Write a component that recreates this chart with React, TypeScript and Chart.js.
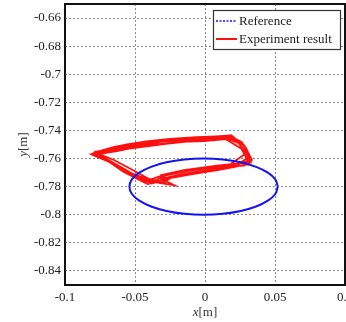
import React, { useEffect, useRef } from "react";
import { Chart, registerables } from "chart.js";

Chart.register(...registerables);

const refLabel = "Reference";
const expLabel = "Experiment result";

const xTicks = [-0.1, -0.05, 0, 0.05, 0.1];
const xTickLabels = ["-0.1", "-0.05", "0", "0.05", "0.1"];
const yTicks = [-0.84, -0.82, -0.8, -0.78, -0.76, -0.74, -0.72, -0.7, -0.68, -0.66];
const yTickLabels = ["-0.84", "-0.82", "-0.8", "-0.78", "-0.76", "-0.74", "-0.72", "-0.7", "-0.68", "-0.66"];

const refX = [0.052, 0.0502, 0.0449, 0.0365, 0.0255, 0.0127, -0.001, -0.0147, -0.0275, -0.0385, -0.0469, -0.0522, -0.054,
  -0.0522, -0.0469, -0.0385, -0.0275, -0.0147, -0.001, 0.0127, 0.0255, 0.0365, 0.0449, 0.0502, 0.052];
const refY = [-0.78, -0.7748, -0.77, -0.7659, -0.7627, -0.7607, -0.76, -0.7607, -0.7627, -0.7659, -0.77, -0.7748, -0.78,
  -0.7852, -0.79, -0.7941, -0.7973, -0.7993, -0.8, -0.7993, -0.7973, -0.7941, -0.79, -0.7852, -0.78];

const expX = [
  -0.0793, -0.068, -0.0557, -0.042, -0.0271, -0.012, -0.0007, 0.0157, 0.0279, 0.0329, 0.0086, -0.015, -0.0314, -0.029, -0.044, -0.06,
  -0.08, -0.068, -0.0557, -0.042, -0.0271, -0.012, -0.0007, 0.015, 0.026, 0.032, 0.0086, -0.015, -0.0314, -0.0221, -0.035, -0.0529, -0.068,
  -0.078, -0.066, -0.054, -0.04, -0.025, -0.01, 0.002, 0.0186, 0.02, 0.029, 0.0335, 0.02, 0, -0.018, -0.033, -0.0436, -0.056, -0.072,
  -0.0795, -0.07, -0.058, -0.045, -0.03, -0.015, 0, 0.014, 0.024, 0.03, 0.031, 0.01, -0.01, -0.025, -0.0293, -0.04, -0.05, -0.065,
  -0.0785, -0.066, -0.052, -0.038, -0.022, -0.008, 0.008, 0.017, 0.027, 0.0325, 0.028, 0.005, -0.013, -0.028, -0.035, -0.048, -0.062, -0.0785,
  -0.076, -0.064, -0.051, -0.037, -0.021, -0.006, 0.009, 0.018, 0.0265, 0.0315, 0.022, 0.004, -0.016, -0.03, -0.038, -0.05, -0.072, -0.081,
  -0.07, -0.057, -0.043, -0.028, -0.013, 0.003, 0.0165, 0.025, 0.0305, 0.015, -0.005, -0.022, -0.033, -0.041, -0.058, -0.074,
  -0.077, -0.062, -0.05, -0.035, -0.02, -0.005, 0.01,
];
const expY = [
  -0.7561, -0.7525, -0.75, -0.7478, -0.7462, -0.7452, -0.7448, -0.7437, -0.7505, -0.7625, -0.765, -0.7682, -0.7718, -0.777, -0.7755, -0.766,
  -0.7575, -0.755, -0.753, -0.7505, -0.749, -0.748, -0.7475, -0.7462, -0.753, -0.764, -0.7672, -0.7708, -0.7745, -0.7789, -0.777, -0.7703, -0.762,
  -0.755, -0.7535, -0.751, -0.749, -0.747, -0.7462, -0.7458, -0.7433, -0.7445, -0.752, -0.761, -0.7645, -0.7668, -0.7695, -0.7728, -0.7767, -0.77, -0.76,
  -0.7565, -0.7545, -0.7522, -0.75, -0.7478, -0.747, -0.7462, -0.745, -0.749, -0.757, -0.764, -0.768, -0.7712, -0.774, -0.7774, -0.7745, -0.769, -0.761,
  -0.7558, -0.753, -0.7505, -0.7485, -0.7472, -0.7458, -0.7452, -0.7445, -0.75, -0.76, -0.765, -0.7665, -0.769, -0.772, -0.7755, -0.7735, -0.765, -0.7558,
  -0.7548, -0.7515, -0.7492, -0.7475, -0.7458, -0.7448, -0.7442, -0.744, -0.7485, -0.7585, -0.7655, -0.7685, -0.7718, -0.7752, -0.7778, -0.7725, -0.7605, -0.7568,
  -0.7552, -0.7532, -0.7515, -0.7495, -0.748, -0.7466, -0.7455, -0.7475, -0.7555, -0.7662, -0.7695, -0.7725, -0.7762, -0.7782, -0.7695, -0.7585,
  -0.757, -0.7545, -0.752, -0.75, -0.7485, -0.747, -0.746,
];

const SERIF = "'Liberation Serif', 'Times New Roman', serif";
const BLUE = "#1414ee";
const RED = "#ff1010";

const decorPlugin = {
  id: "decor",
  afterDraw(chart: any) {
    const { ctx, chartArea } = chart;
    ctx.save();
    ctx.strokeStyle = "#111";
    ctx.lineWidth = 2;
    ctx.strokeRect(chartArea.left, chartArea.top, chartArea.right - chartArea.left, chartArea.bottom - chartArea.top);

    const lx = 213, ly = 10, lw = 127, lh = 39;
    ctx.fillStyle = "#fff";
    ctx.fillRect(lx, ly, lw, lh);
    ctx.strokeStyle = "#333";
    ctx.lineWidth = 1.2;
    ctx.strokeRect(lx + 0.5, ly + 0.5, lw, lh);
    chart.data.datasets.forEach((ds: any, i: number) => {
      const y = ly + 11 + i * 18;
      ctx.beginPath();
      ctx.setLineDash(i === 0 ? [2, 1.5] : []);
      ctx.strokeStyle = ds.borderColor;
      ctx.lineWidth = i === 0 ? 1.5 : 2;
      ctx.moveTo(lx + 3, y);
      ctx.lineTo(lx + 24, y);
      ctx.stroke();
      ctx.setLineDash([]);
      ctx.fillStyle = "#222";
      ctx.font = `13px ${SERIF}`;
      ctx.textBaseline = "middle";
      ctx.textAlign = "left";
      ctx.fillText(ds.label, lx + 26, y + 1);
    });

    const drawTitle = (cx: number, cy: number, rot: number, v: string) => {
      ctx.save();
      ctx.translate(cx, cy);
      ctx.rotate(rot);
      ctx.fillStyle = "#333";
      ctx.textBaseline = "middle";
      ctx.textAlign = "left";
      ctx.font = `italic 13px ${SERIF}`;
      const w1 = ctx.measureText(v).width;
      ctx.font = `13px ${SERIF}`;
      const w2 = ctx.measureText("[m]").width;
      const start = -(w1 + w2) / 2;
      ctx.font = `italic 13px ${SERIF}`;
      ctx.fillText(v, start, 0);
      ctx.font = `13px ${SERIF}`;
      ctx.fillText("[m]", start + w1, 0);
      ctx.restore();
    };
    drawTitle((chartArea.left + chartArea.right) / 2, 313, 0, "x");
    drawTitle(24, (chartArea.top + chartArea.bottom) / 2, -Math.PI / 2, "y");
    ctx.restore();
  },
};

export default function App() {
  const canvasRef = useRef<HTMLCanvasElement | null>(null);

  useEffect(() => {
    if (!canvasRef.current) return;
    const chart = new Chart(canvasRef.current, {
      type: "scatter",
      data: {
        datasets: [
          {
            label: refLabel,
            data: refX.map((x, i) => ({ x, y: refY[i] })),
            showLine: true,
            borderColor: BLUE,
            backgroundColor: BLUE,
            borderWidth: 2,
            pointRadius: 0,
            tension: 0.4,
          },
          {
            label: expLabel,
            data: expX.map((x, i) => ({ x, y: expY[i] })),
            showLine: true,
            borderColor: RED,
            backgroundColor: RED,
            borderWidth: 1.8,
            pointRadius: 0,
            tension: 0,
          },
        ],
      },
      options: {
        animation: false,
        responsive: false,
        maintainAspectRatio: false,
        layout: { padding: { top: 4, right: 1, left: 0, bottom: 0 } },
        plugins: { legend: { display: false }, tooltip: { enabled: false } },
        scales: {
          x: {
            type: "linear",
            min: -0.1,
            max: 0.1,
            afterBuildTicks: (s: any) => { s.ticks = xTicks.map((v) => ({ value: v })); },
            afterFit: (s: any) => { s.height = 37; s.paddingLeft = 0; s.paddingRight = 0; },
            ticks: {
              padding: 5,
              color: "#222",
              font: { family: SERIF, size: 13 },
              callback: (v: any) => { const i = xTicks.findIndex((t) => Math.abs(t - v) < 1e-9); return i >= 0 ? xTickLabels[i] : ""; },
              maxRotation: 0,
              autoSkip: false,
            },
            grid: { color: "#8a8a8a", lineWidth: 1, drawTicks: false, tickLength: 0 },
            border: { display: false, dash: [2, 2] },
          },
          y: {
            type: "linear",
            min: -0.85,
            max: -0.65,
            afterBuildTicks: (s: any) => { s.ticks = yTicks.map((v) => ({ value: v })); },
            afterFit: (s: any) => { s.width = 65; s.paddingTop = 0; s.paddingBottom = 0; },
            ticks: {
              padding: 4,
              color: "#222",
              font: { family: SERIF, size: 13 },
              callback: (v: any) => { const i = yTicks.findIndex((t) => Math.abs(t - v) < 1e-9); return i >= 0 ? yTickLabels[i] : ""; },
              autoSkip: false,
            },
            grid: { color: "#8a8a8a", lineWidth: 1, drawTicks: false, tickLength: 0 },
            border: { display: false, dash: [2, 2] },
          },
        },
      },
      plugins: [decorPlugin],
    } as any);
    return () => chart.destroy();
  }, []);

  return (
    <div style={{ position: "fixed", left: 0, top: 0, width: 346, height: 322, background: "#fff" }}>
      <canvas ref={canvasRef} width={346} height={322} style={{ width: 346, height: 322, display: "block" }} />
    </div>
  );
}
